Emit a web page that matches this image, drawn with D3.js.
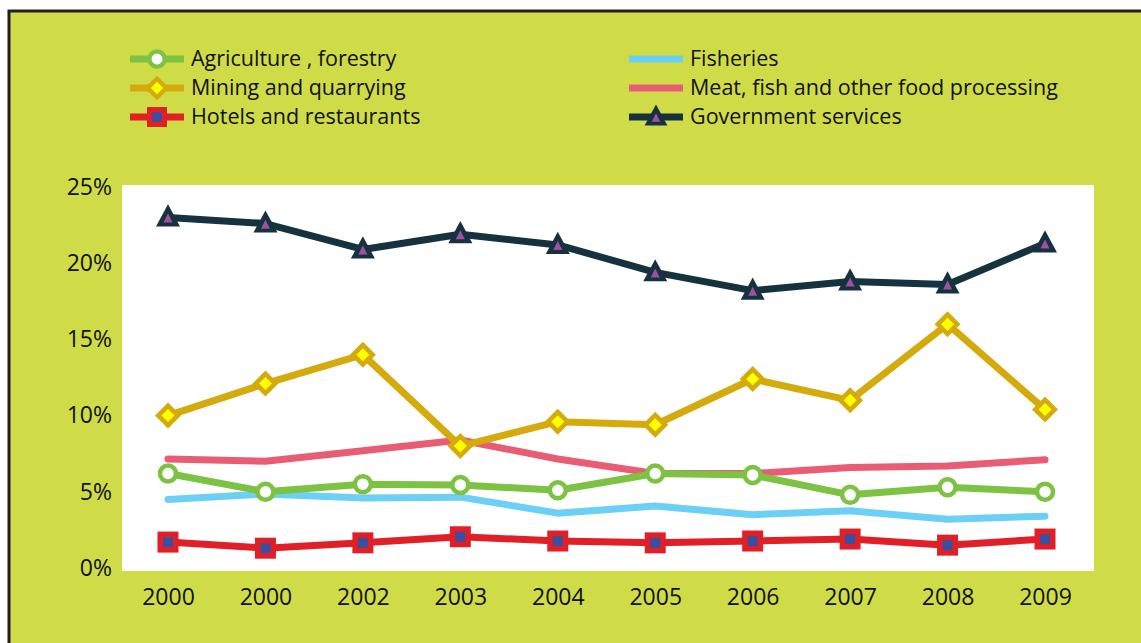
<!DOCTYPE html>
<html>
<head>
<meta charset="utf-8">
<script src="https://cdn.jsdelivr.net/npm/d3@7"></script>
<style>
body { margin: 0; background: #fff; }
svg { display: block; font-family: "Open Sans", "Noto Sans", sans-serif; }
</style>
</head>
<body>
<div class="chart"></div>
<script>
// data
var years = ["2000", "2000 ", "2002", "2003", "2004", "2005", "2006", "2007", "2008", "2009"];
var yTicks = [0, 0.05, 0.10, 0.15, 0.20, 0.25];
var agriculture = [6.2, 5.0, 5.5, 5.45, 5.1, 6.2, 6.1, 4.8, 5.3, 5.0];
var fisheries = [4.5, 4.85, 4.6, 4.65, 3.6, 4.07, 3.5, 3.75, 3.2, 3.4];
var mining = [10.0, 12.1, 14.0, 8.0, 9.6, 9.4, 12.4, 11.0, 16.0, 10.4];
var meat = [7.15, 7.0, 7.7, 8.4, 7.15, 6.2, 6.2, 6.6, 6.7, 7.1];
var hotels = [1.7, 1.3, 1.65, 2.05, 1.77, 1.65, 1.77, 1.9, 1.5, 1.9];
var government = [23.0, 22.6, 20.9, 21.9, 21.2, 19.4, 18.2, 18.8, 18.6, 21.3];

var series = [
	{name: "Agriculture , forestry", values: agriculture, color: "#7dc242", marker: "circle", inner: "#ffffff"},
	{name: "Fisheries", values: fisheries, color: "#6ccff6", marker: null},
	{name: "Mining and quarrying", values: mining, color: "#d4aa0c", marker: "diamond", inner: "#ffff00"},
	{name: "Meat, fish and other food processing", values: meat, color: "#e85d73", marker: null},
	{name: "Hotels and restaurants", values: hotels, color: "#e01f26", marker: "square", inner: "#3a4fa0"},
	{name: "Government services", values: government, color: "#17323f", marker: "triangle", inner: "#a050a0"}
];
// draw order (back to front)
var drawOrder = [3, 1, 0, 4, 2, 5];

var width = 1141, height = 643;
var svg = d3.select(".chart").append("svg")
	.attr("width", width)
	.attr("height", height);

// frame
svg.append("rect")
	.attr("x", 9).attr("y", 11)
	.attr("width", width).attr("height", height)
	.attr("fill", "#cfdc48")
	.attr("stroke", "#231f20")
	.attr("stroke-width", 3);

// plot area
var plot = {left: 122, right: 1094, top: 185, bottom: 571};
svg.append("rect")
	.attr("x", plot.left).attr("y", plot.top)
	.attr("width", plot.right - plot.left).attr("height", plot.bottom - plot.top)
	.attr("fill", "#fff");

var x = d3.scalePoint().domain(years).range([168, 1045]);
var y = d3.scaleLinear().domain([0, 0.25]).range([568, 187]);

var yAxis = svg.append("g")
	.attr("transform", "translate(" + plot.left + ",0)")
	.call(d3.axisLeft(y).tickValues(yTicks).tickFormat(d3.format(".0%")).tickSize(0).tickPadding(10));
yAxis.select(".domain").remove();
yAxis.selectAll("text").attr("font-size", 23).attr("fill", "#111").attr("font-family", "Open Sans");

var xAxis = svg.append("g")
	.attr("transform", "translate(0," + 580 + ")")
	.call(d3.axisBottom(x).tickSize(0).tickPadding(9));
xAxis.select(".domain").remove();
xAxis.selectAll("text").attr("font-size", 23).attr("fill", "#111").attr("font-family", "Open Sans");

var line = d3.line()
	.x(function(d, i) { return x(years[i]); })
	.y(function(d) { return y(d / 100); });

function drawMarker(g, type, cx, cy, s, scale) {
	scale = scale || 1;
	if (type == "circle") {
		g.append("circle").attr("cx", cx).attr("cy", cy).attr("r", 8 * scale)
			.attr("fill", s.inner).attr("stroke", s.color).attr("stroke-width", 4.5 * scale);
	} else if (type == "diamond") {
		var r = 13 * scale;
		g.append("path")
			.attr("d", "M" + cx + "," + (cy - r) + "L" + (cx + r) + "," + cy + "L" + cx + "," + (cy + r) + "L" + (cx - r) + "," + cy + "Z")
			.attr("fill", s.color);
		var r2 = 6.5 * scale;
		g.append("path")
			.attr("d", "M" + cx + "," + (cy - r2) + "L" + (cx + r2) + "," + cy + "L" + cx + "," + (cy + r2) + "L" + (cx - r2) + "," + cy + "Z")
			.attr("fill", s.inner);
	} else if (type == "square") {
		var h = 10.5 * scale;
		g.append("rect").attr("x", cx - h).attr("y", cy - h).attr("width", 2 * h).attr("height", 2 * h)
			.attr("fill", s.color);
		var h2 = 5 * scale;
		g.append("rect").attr("x", cx - h2).attr("y", cy - h2).attr("width", 2 * h2).attr("height", 2 * h2)
			.attr("fill", s.inner);
	} else if (type == "triangle") {
		var t = 12 * scale;
		g.append("path")
			.attr("d", "M" + cx + "," + (cy - t * 1.1) + "L" + (cx + t) + "," + (cy + t * 0.75) + "L" + (cx - t) + "," + (cy + t * 0.75) + "Z")
			.attr("fill", s.color);
		var t2 = 4.5 * scale;
		g.append("path")
			.attr("d", "M" + cx + "," + (cy - t2 * 1.1 + 1) + "L" + (cx + t2) + "," + (cy + t2 * 0.9 + 1) + "L" + (cx - t2) + "," + (cy + t2 * 0.9 + 1) + "Z")
			.attr("fill", s.inner);
	}
}

drawOrder.forEach(function(k) {
	var s = series[k];
	var g = svg.append("g");
	g.append("path")
		.attr("d", line(s.values))
		.attr("fill", "none")
		.attr("stroke", s.color)
		.attr("stroke-width", 7)
		.attr("stroke-linecap", "round")
		.attr("stroke-linejoin", "round");
	if (s.marker) {
		s.values.forEach(function(v, i) {
			drawMarker(g, s.marker, x(years[i]), y(v / 100), s);
		});
	}
});

// legend
var legendPos = [
	[130, 59], [629, 59],
	[130, 88], [629, 88],
	[130, 117], [629, 117]
];
series.forEach(function(s, i) {
	var p = legendPos[i];
	var g = svg.append("g");
	g.append("line")
		.attr("x1", p[0]).attr("x2", p[0] + 54)
		.attr("y1", p[1]).attr("y2", p[1])
		.attr("stroke", s.color).attr("stroke-width", 7);
	if (s.marker) drawMarker(g, s.marker, p[0] + 27, p[1], s, 0.95);
	g.append("text")
		.attr("x", p[0] + 61).attr("y", p[1] + 7)
		.attr("font-size", 21.5)
		.attr("fill", "#111")
		.text(s.name);
});
</script>
</body>
</html>
